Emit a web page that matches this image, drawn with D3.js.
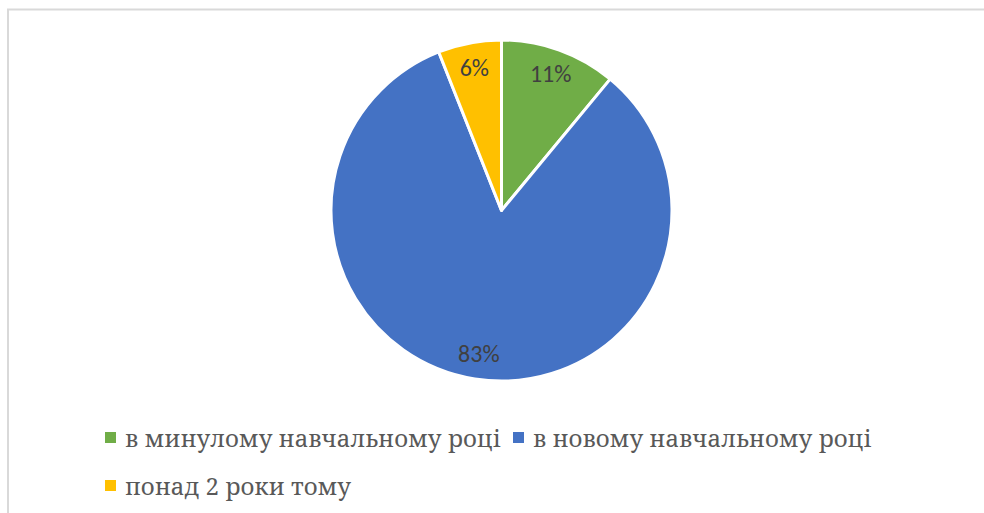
<meta charset="utf-8">
<title>Pie</title>
<style>
  body { margin: 0; background: #fff; }
</style>
<body>
<script src="https://cdn.jsdelivr.net/npm/d3@7"></script>
<script>

var width = 984;
var height = 513;

// data
var categories = ['в минулому навчальному році', 'в новому навчальному році', 'понад 2 роки тому'];
var values = [11, 83, 6];
var labels = ['11%', '83%', '6%'];
var colors = ['#70ad47', '#4472c4', '#ffc000'];

var cx = 501.5, cy = 210.5, radius = 170.5;

var svg = d3.select('body').append('svg')
    .attr('width', width)
    .attr('height', height)
    .style('display', 'block');

// chart border (runs off the right/bottom edge)
svg.append('rect')
    .attr('x', 8).attr('y', 9.5)
    .attr('width', width + 20).attr('height', height + 20)
    .style('fill', 'none')
    .style('stroke', '#d9d9d9')
    .style('stroke-width', 2);

var pie = d3.pie().sort(null).value(function(d){ return d; });
var arcs = pie(values);
var arc = d3.arc().innerRadius(0).outerRadius(radius);
var labelArc = d3.arc().innerRadius(145).outerRadius(145);

var g = svg.append('g').attr('transform', 'translate(' + cx + ',' + cy + ')');

g.selectAll('path.slice')
    .data(arcs)
    .enter()
    .append('path')
    .attr('class', 'slice')
    .attr('d', arc)
    .style('fill', function(d,i){ return colors[i]; })
    .style('stroke', '#fff')
    .style('stroke-width', 3)
    .style('stroke-linejoin', 'round');

g.selectAll('text.lbl')
    .data(arcs)
    .enter()
    .append('text')
    .attr('class', 'lbl')
    .attr('transform', function(d){ return 'translate(' + labelArc.centroid(d) + ')'; })
    .attr('text-anchor', 'middle')
    .attr('dy', '0.35em')
    .style('font-family', 'Carlito, "Open Sans", sans-serif')
    .style('font-size', '24px')
    .style('fill', '#404040')
    .text(function(d,i){ return labels[i]; });

// legend
var legendPos = [[105, 447], [513, 447], [105, 495]];
var lg = svg.append('g').selectAll('g.leg')
    .data(categories)
    .enter()
    .append('g')
    .attr('class', 'leg')
    .attr('transform', function(d,i){ return 'translate(' + legendPos[i][0] + ',' + legendPos[i][1] + ')'; });

lg.append('rect')
    .attr('x', 0).attr('y', -15)
    .attr('width', 11).attr('height', 11)
    .style('fill', function(d,i){ return colors[i]; });

lg.append('text')
    .attr('x', 20)
    .attr('y', 0)
    .style('font-family', '"Noto Serif", "DejaVu Serif", serif')
    .style('font-size', '24px')
    .style('fill', '#595959')
    .text(function(d){ return d; });

</script>
